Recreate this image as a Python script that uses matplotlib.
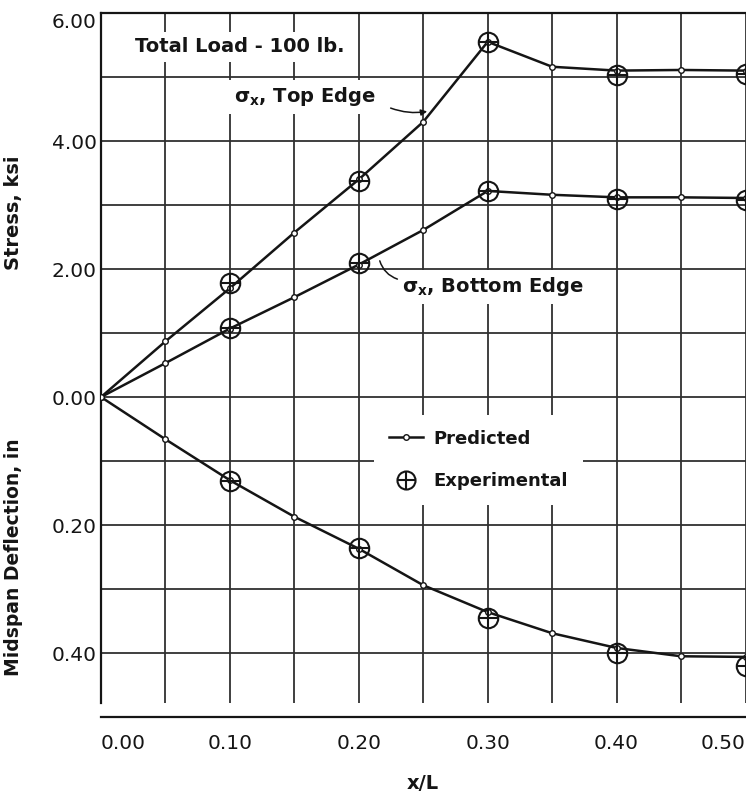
import matplotlib
matplotlib.use("Agg")
import matplotlib.pyplot as plt
from matplotlib.ticker import MultipleLocator
from matplotlib.lines import Line2D
from matplotlib.legend_handler import HandlerTuple

# x/L positions
x_pred = [0.0, 0.05, 0.10, 0.15, 0.20, 0.25, 0.30, 0.35, 0.40, 0.45, 0.50]
x_exp = [0.10, 0.20, 0.30, 0.40, 0.50]

# stress, ksi
top_pred = [0.0, 0.87, 1.70, 2.57, 3.40, 4.30, 5.55, 5.16, 5.10, 5.11, 5.10]
top_exp = [1.78, 3.37, 5.55, 5.03, 5.05]
bottom_pred = [0.0, 0.53, 1.07, 1.56, 2.07, 2.61, 3.22, 3.16, 3.12, 3.12, 3.11]
bottom_exp = [1.08, 2.09, 3.22, 3.10, 3.08]

# midspan deflection, in
defl_pred = [0.0, 0.066, 0.130, 0.187, 0.237, 0.294, 0.336, 0.369, 0.392, 0.405, 0.406]
defl_exp = [0.131, 0.236, 0.345, 0.400, 0.420]

x_ticks = [0.0, 0.1, 0.2, 0.3, 0.4, 0.5]
x_labels = ["0.00", "0.10", "0.20", "0.30", "0.40", "0.50"]

ink = "#151515"
grid_c = "#303030"

fig = plt.figure(figsize=(7.46, 7.93), dpi=100)
ax = fig.add_axes([101/746, 1 - 703/793, 644.5/746, 690/793])
ax.set_xlim(0, 0.5)
ax.set_ylim(-4.78, 6.0)

# deflection axis: 0.1 in per 1 ksi, increasing downward
ax2 = ax.twinx()
ax2.set_ylim(0.478, -0.60)

# grid
ax.set_xticks(x_ticks)
ax.set_xticklabels(x_labels)
ax.xaxis.set_minor_locator(MultipleLocator(0.05))
ax.set_yticks([0, 2, 4, 6])
ax.set_yticklabels(["0.00", "2.00", "4.00", "6.00"])
ax.yaxis.set_minor_locator(MultipleLocator(1))
ax.grid(which="both", color=grid_c, lw=1.3)
ax.set_axisbelow(True)
ax.tick_params(which="both", length=0)
ax.tick_params(axis="y", pad=3, labelsize=14.5, colors=ink)
ax.tick_params(axis="x", pad=12, labelsize=14.5, colors=ink)

for s in ["left", "top", "bottom"]:
    ax.spines[s].set_color(ink)
    ax.spines[s].set_linewidth(1.6)
ax.spines["right"].set_visible(False)
ax.spines["bottom"].set_position(("outward", 10))

ax2.yaxis.tick_left()
ax2.set_yticks([0.2, 0.4])
ax2.set_yticklabels(["0.20", "0.40"])
ax2.tick_params(length=0, pad=3, labelsize=14.5, colors=ink)
for s in ax2.spines.values():
    s.set_visible(False)

# curves
pred_kw = dict(color=ink, lw=1.8, marker="o", ms=4, mfc="white", mec=ink, mew=1.0)
exp_kw = dict(ls="none", ms=14, mew=1.5, color=ink, clip_on=False, zorder=5)

ax.plot(x_pred, top_pred, **pred_kw)
ax.plot(x_pred, bottom_pred, **pred_kw)
ax2.plot(x_pred, defl_pred, **pred_kw)
for axx, ys in [(ax, top_exp), (ax, bottom_exp), (ax2, defl_exp)]:
    axx.plot(x_exp, ys, marker="o", mfc="none", **exp_kw)
    axx.plot(x_exp, ys, marker="+", **exp_kw)

# labels
ax.set_ylabel("Stress, ksi", fontsize=14, fontweight="bold", color=ink)
ax.yaxis.set_label_coords(-0.121, 0.71)
ax2.yaxis.set_label_position("left")
ax2.set_ylabel("Midspan Deflection, in", fontsize=13.5, fontweight="bold", color=ink)
ax2.yaxis.set_label_coords(-0.121, 0.212)
ax.set_xlabel("x/L", fontsize=14, fontweight="bold", color=ink, va="center")
ax.xaxis.set_label_coords(0.5, -0.116)

box = dict(fc="white", ec="none", pad=4)
ax.text(0.108, 5.47, "Total Load - 100 lb.", ha="center", va="center",
        fontsize=14, fontweight="bold", color=ink, bbox=box)
ax.text(0.158, 4.69, r"$\mathbf{\sigma_x}$, Top Edge", ha="center", va="center",
        fontsize=14, fontweight="bold", color=ink, bbox=box)
ax.annotate("", xy=(0.2552, 4.47), xytext=(0.2227, 4.53),
            arrowprops=dict(arrowstyle="-|>", color=ink, lw=1.1,
                            connectionstyle="arc3,rad=0.15", mutation_scale=9))
ax.text(0.304, 1.72, r"$\mathbf{\sigma_x}$, Bottom Edge", ha="center", va="center",
        fontsize=14, fontweight="bold", color=ink, bbox=box)
ax.annotate("", xy=(0.2157, 2.17), xytext=(0.232, 1.83),
            arrowprops=dict(arrowstyle="-", color=ink, lw=1.1,
                            connectionstyle="arc3,rad=-0.3"))

# legend
h_pred = Line2D([], [], **pred_kw)
h_c = Line2D([], [], marker="o", mfc="none", ls="none", ms=13, mew=1.5, color=ink)
h_p = Line2D([], [], marker="+", ls="none", ms=13, mew=1.5, color=ink)
leg = ax.legend([h_pred, (h_c, h_p)], ["Predicted", "Experimental"],
                handler_map={tuple: HandlerTuple(ndivide=1)},
                loc="upper left", bbox_to_anchor=(0.41, 0.430),
                prop=dict(size=13, weight="bold"), handlelength=1.9,
                handletextpad=0.6, labelspacing=1.35, borderpad=0.8,
                frameon=True, fancybox=False)
leg.get_frame().set_facecolor("white")
leg.get_frame().set_edgecolor("none")
leg.get_frame().set_alpha(1)
for t in leg.get_texts():
    t.set_color(ink)

# end labels sit inside the frame
fig.canvas.draw()
xl = ax.get_xticklabels()
xl[0].set_horizontalalignment("left")
xl[-1].set_horizontalalignment("right")
ax.get_yticklabels()[-1].set_verticalalignment("top")

fig.savefig("out.png", dpi=100)
